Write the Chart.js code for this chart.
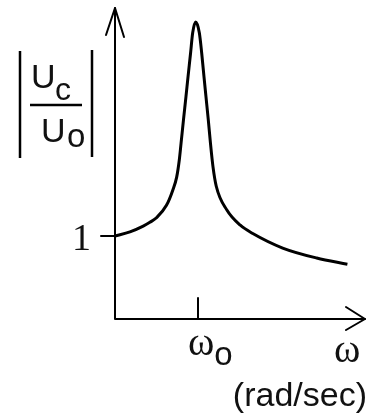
<!DOCTYPE html>
<html>
<head>
<meta charset="utf-8">
<script src="https://cdn.jsdelivr.net/npm/chart.js@4.4.1/dist/chart.umd.min.js"></script>
<style>
  html, body { margin: 0; padding: 0; background: #fff; }
  #wrap { width: 368px; height: 416px; position: relative; }
</style>
</head>
<body>
<div id="wrap"><canvas id="chart"></canvas></div>
<script>
// 角频率 ω（以 ω0 为单位）
const omega = [0, 0.18, 0.34, 0.42, 0.50, 0.62, 0.695, 0.743, 0.775, 0.796, 0.825, 0.855, 0.880, 0.910, 0.936, 0.972,
               1.016, 1.045, 1.072, 1.096, 1.124, 1.150, 1.180, 1.22, 1.35, 1.51, 1.66, 2.02, 2.43, 2.80];
// 幅值 |Uc/Uo|
const gain = [1.00, 1.05, 1.12, 1.165, 1.22, 1.37, 1.55, 1.71, 1.92, 2.12, 2.40, 2.68, 2.92, 3.20, 3.45, 3.58,
              3.45, 3.20, 2.92, 2.68, 2.40, 2.12, 1.84, 1.60, 1.31, 1.13, 1.03, 0.855, 0.735, 0.66];

// 刻度
const xTickValues = [1];
const xTickLabels = ['ω'];
const xTickSubs = ['o'];
const yTickValues = [1];
const yTickLabels = ['1'];

// 轴标题
const xAxisSymbol = 'ω';
const xAxisUnit = '(rad/sec)';
const yTitleTop = ['U', 'c'];
const yTitleBottom = ['U', 'o'];

const SERIF = '"Liberation Serif", "Times New Roman", serif';
const SANS = '"Liberation Sans", Arial, sans-serif';
const INK = '#111';

// 画坐标轴、箭头、刻度和文字
const axisDecor = {
  id: 'axisDecor',
  beforeDatasetsDraw(chart) {
    const { ctx, scales: { x, y } } = chart;
    const x0 = x.getPixelForValue(0);
    const y0 = y.getPixelForValue(0);
    const xEnd = x.getPixelForValue(x.max);
    const yEnd = y.getPixelForValue(y.max);

    ctx.save();
    ctx.strokeStyle = '#000';
    ctx.lineWidth = 2;
    ctx.lineCap = 'round';
    ctx.lineJoin = 'round';

    // 坐标轴
    ctx.beginPath();
    ctx.moveTo(x0, yEnd - 4);
    ctx.lineTo(x0, y0);
    ctx.lineTo(xEnd + 1, y0);
    ctx.stroke();

    // 箭头
    ctx.beginPath();
    ctx.moveTo(x0 - 9, yEnd + 23);
    ctx.lineTo(x0, yEnd - 4);
    ctx.lineTo(x0 + 9, yEnd + 25);
    ctx.moveTo(xEnd - 18, y0 - 12);
    ctx.lineTo(xEnd + 1, y0);
    ctx.lineTo(xEnd - 18, y0 + 11);
    ctx.stroke();

    ctx.fillStyle = INK;
    ctx.textBaseline = 'alphabetic';
    ctx.textAlign = 'left';

    // x 刻度
    xTickValues.forEach((v, i) => {
      const px = x.getPixelForValue(v);
      ctx.beginPath();
      ctx.moveTo(px, y0 - 21);
      ctx.lineTo(px, y0);
      ctx.stroke();
      ctx.font = '40px ' + SERIF;
      const left = px - 10;
      ctx.fillText(xTickLabels[i], left, y0 + 36);
      const w = ctx.measureText(xTickLabels[i]).width;
      ctx.font = '33px ' + SANS;
      ctx.fillText(xTickSubs[i], left + w, y0 + 46);
    });

    // y 刻度
    yTickValues.forEach((v, i) => {
      const py = y.getPixelForValue(v);
      ctx.beginPath();
      ctx.moveTo(x0 - 14, py);
      ctx.lineTo(x0, py);
      ctx.stroke();
      ctx.font = '38px ' + SERIF;
      ctx.textAlign = 'right';
      ctx.fillText(yTickLabels[i], x0 - 24, py + 14);
      ctx.textAlign = 'left';
    });

    // x 轴标题
    ctx.font = '40px ' + SERIF;
    ctx.fillText(xAxisSymbol, xEnd - 30, y0 + 43);
    ctx.font = '34px ' + SANS;
    ctx.textAlign = 'right';
    ctx.fillText(xAxisUnit, 367, y0 + 87);
    ctx.textAlign = 'left';

    // y 轴标题 |Uc/Uo|
    ctx.lineWidth = 2.5;
    ctx.lineCap = 'butt';
    ctx.beginPath();
    ctx.moveTo(20, 51); ctx.lineTo(20, 158);
    ctx.moveTo(92, 50); ctx.lineTo(92, 157);
    ctx.moveTo(30, 105); ctx.lineTo(82, 105);
    ctx.stroke();
    ctx.font = '34px ' + SANS;
    ctx.fillText(yTitleTop[0], 31, 88);
    ctx.font = '32px ' + SANS;
    ctx.fillText(yTitleTop[1], 55, 100);
    ctx.font = '34px ' + SANS;
    ctx.fillText(yTitleBottom[0], 41, 142);
    ctx.font = '33px ' + SANS;
    ctx.fillText(yTitleBottom[1], 67, 147);

    ctx.restore();
  }
};

new Chart(document.getElementById('chart'), {
  type: 'line',
  data: {
    datasets: [{
      data: omega.map((w, i) => ({ x: w, y: gain[i] })),
      borderColor: '#000',
      borderWidth: 3,
      pointRadius: 0,
      fill: false,
      cubicInterpolationMode: 'monotone',
      clip: false
    }]
  },
  options: {
    responsive: true,
    maintainAspectRatio: false,
    animation: false,
    layout: { padding: { left: 115, right: 4, top: 12, bottom: 97 } },
    plugins: { legend: { display: false }, tooltip: { enabled: false } },
    scales: {
      x: { type: 'linear', min: 0, max: 3, display: false },
      y: { type: 'linear', min: 0, max: 3.7, display: false }
    }
  },
  plugins: [axisDecor]
});
</script>
</body>
</html>
